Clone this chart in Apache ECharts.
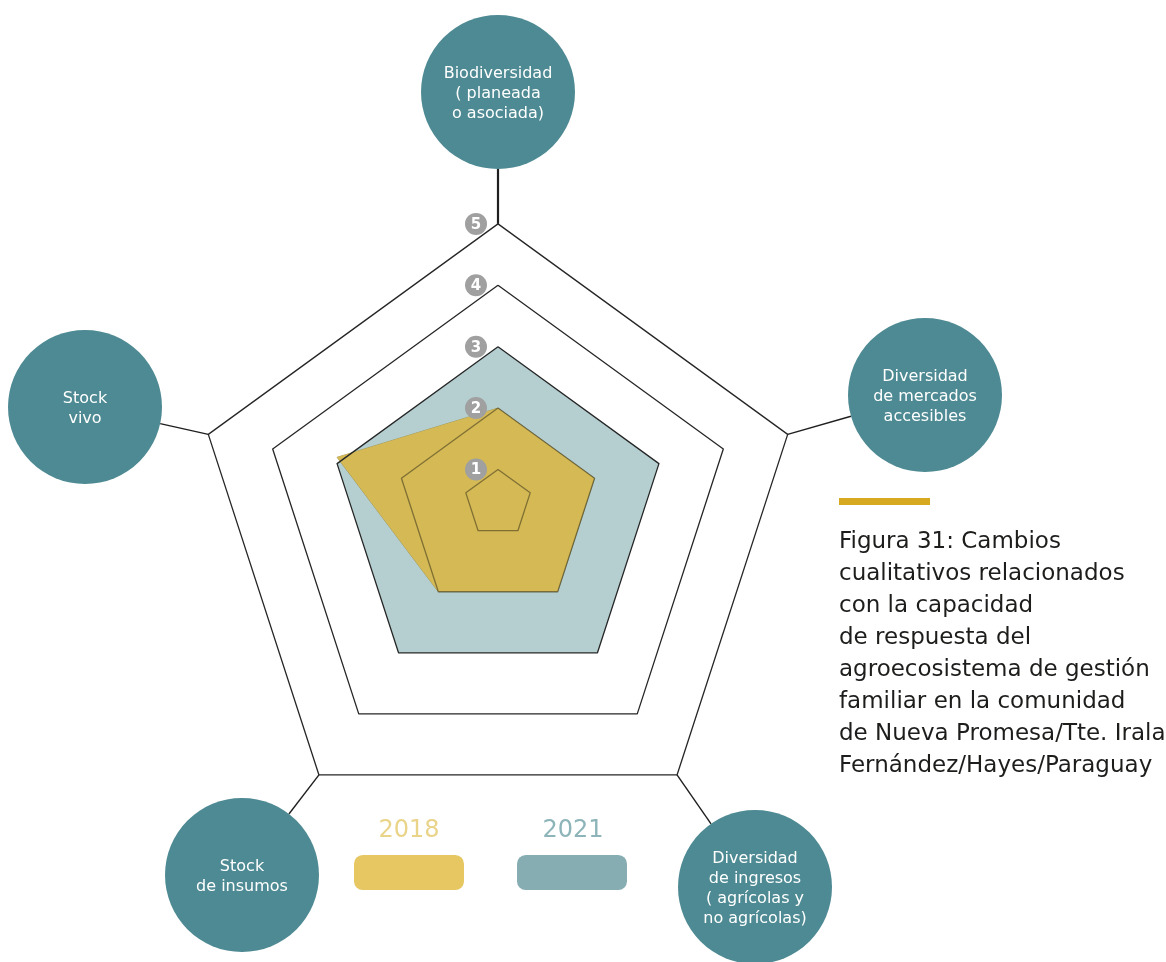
<!DOCTYPE html>
<html>
<head>
    <meta charset="utf-8">
    <title>Figura 31</title>
    <script src="https://cdn.jsdelivr.net/npm/echarts@6/dist/echarts.min.js"></script>
    <style>
        html, body { margin: 0; padding: 0; background: #fff; }
    </style>
</head>
<body>

<div id="radarChart" style="width: 1166px;height:962px;"></div>

<script type="text/javascript">
    // indicators, counter-clockwise from the top
    var indicators = [
        'Biodiversidad\n( planeada\no asociada)',
        'Stock\nvivo',
        'Stock\nde insumos',
        'Diversidad\nde ingresos\n( agrícolas y\nno agrícolas)',
        'Diversidad\nde mercados\naccesibles'
    ];
    var values2018 = [2, 3, 2, 2, 2];
    var values2021 = [3, 3, 3, 3, 3];
    var levels = [1, 2, 3, 4, 5];
    var years = ['2018', '2021'];
    var titleLines = [
        'Figura 31: Cambios',
        'cualitativos relacionados',
        'con la capacidad',
        'de respuesta del',
        'agroecosistema de gestión',
        'familiar en la comunidad',
        'de Nueva Promesa/Tte. Irala',
        'Fernández/Hayes/Paraguay'
    ];

    // layout
    var cx = 498;
    var R = 304.6;          // radius of level 5 (axis min is 0.5)
    var vMin = 0.5, vMax = 5;
    function cyOf(k) { return 497 + 6.3 * k; }   // rings drift down a bit as they grow
    function rOf(v) { return R * (v - vMin) / (vMax - vMin); }
    function ang(i) { return (90 + 72 * i) * Math.PI / 180; }
    var nameCenters = [[498, 92], [85, 407], [242, 875], [755, 887], [925, 395]];
    var nameR = 77;

    var chart = echarts.init(document.getElementById('radarChart'));

    var radars = levels.map(function (k) {
        return {
            center: [cx, cyOf(k)],
            radius: R,
            startAngle: 90,
            splitNumber: 5,
            shape: 'polygon',
            indicator: indicators.map(function (n) { return {name: n, min: vMin, max: vMax}; }),
            axisName: {show: false},
            axisLine: {show: false},
            axisTick: {show: false},
            axisLabel: {show: false},
            splitLine: {show: false},
            splitArea: {show: false}
        };
    });

    var series = [
        {
            name: '2021',
            type: 'radar',
            radarIndex: 2,
            symbol: 'none',
            silent: true,
            lineStyle: {width: 0},
            areaStyle: {color: '#b5cfd1', opacity: 1},
            itemStyle: {color: '#85adb2'},
            data: [{value: values2021, name: '2021'}]
        },
        {
            name: '2018',
            type: 'radar',
            radarIndex: 1,
            symbol: 'none',
            silent: true,
            lineStyle: {width: 0.8, color: '#9c8a3e'},
            areaStyle: {color: '#d4b955', opacity: 1},
            itemStyle: {color: '#e6c762'},
            data: [{value: values2018, name: '2018'}]
        }
    ];
    levels.forEach(function (k, idx) {
        series.push({
            name: 'nivel ' + k,
            type: 'radar',
            radarIndex: idx,
            symbol: 'none',
            silent: true,
            z: 3,
            lineStyle: {width: 1.3, color: k <= 2 ? 'rgba(0,0,0,0.4)' : '#262626'},
            data: [{value: indicators.map(function () { return k; })}]
        });
    });

    var graphics = [];
    // connectors from the outer ring to the name circles
    indicators.forEach(function (n, i) {
        var cy5 = cyOf(5), r5 = rOf(5);
        var vx = cx + r5 * Math.cos(ang(i)), vy = cy5 - r5 * Math.sin(ang(i));
        var c = nameCenters[i];
        var dx = c[0] - vx, dy = c[1] - vy, d = Math.sqrt(dx * dx + dy * dy);
        graphics.push({
            type: 'line',
            shape: {x1: vx, y1: vy, x2: c[0] - dx / d * nameR, y2: c[1] - dy / d * nameR},
            style: {stroke: '#1f1f1f', lineWidth: i === 0 ? 2.2 : 1.4},
            silent: true
        });
        graphics.push({
            type: 'circle',
            shape: {cx: c[0], cy: c[1], r: nameR},
            style: {fill: '#4e8a93'},
            silent: true
        });
        graphics.push({
            type: 'text',
            x: c[0],
            y: c[1] + 2,
            style: {
                text: n,
                fill: '#ffffff',
                font: '16px "DejaVu Sans"',
                lineHeight: 20,
                align: 'center',
                verticalAlign: 'middle'
            },
            silent: true
        });
    });
    // level badges on the top axis
    levels.forEach(function (k) {
        var y = cyOf(k) - rOf(k);
        graphics.push({
            type: 'circle',
            shape: {cx: cx - 22, cy: y, r: 11},
            style: {fill: '#a0a0a0'},
            z: 10,
            silent: true
        });
        graphics.push({
            type: 'text',
            x: cx - 22,
            y: y + 1,
            z: 11,
            style: {
                text: String(k),
                fill: '#ffffff',
                font: 'bold 15px "DejaVu Sans"',
                align: 'center',
                verticalAlign: 'middle'
            },
            silent: true
        });
    });
    // year labels above the legend boxes
    var yearX = [409, 573];
    var yearColors = ['#ead48a', '#8db5b9'];
    years.forEach(function (y, i) {
        graphics.push({
            type: 'text',
            x: yearX[i],
            y: 831,
            style: {
                text: y,
                fill: yearColors[i],
                font: '24px "DejaVu Sans"',
                align: 'center',
                verticalAlign: 'middle'
            },
            silent: true
        });
    });
    // gold bar above the caption
    graphics.push({
        type: 'rect',
        shape: {x: 839, y: 498, width: 91, height: 7},
        style: {fill: '#d6a920'},
        silent: true
    });

    chart.setOption({
        backgroundColor: '#ffffff',
        animation: false,
        title: {
            text: titleLines.join('\n'),
            left: 839,
            top: 526,
            padding: 0,
            textStyle: {
                fontFamily: 'DejaVu Sans',
                fontWeight: 'normal',
                fontSize: 23,
                lineHeight: 32,
                color: '#1d1d1b'
            }
        },
        legend: [
            {
                left: 354, top: 855, padding: 0,
                icon: 'roundRect', itemWidth: 110, itemHeight: 35,
                selectedMode: false,
                formatter: function () { return ''; },
                data: [{name: '2018', itemStyle: {color: '#e6c762'}}]
            },
            {
                left: 517, top: 855, padding: 0,
                icon: 'roundRect', itemWidth: 110, itemHeight: 35,
                selectedMode: false,
                formatter: function () { return ''; },
                data: [{name: '2021', itemStyle: {color: '#85adb2'}}]
            }
        ],
        radar: radars,
        series: series,
        graphic: graphics
    });
</script>
</body>
</html>
